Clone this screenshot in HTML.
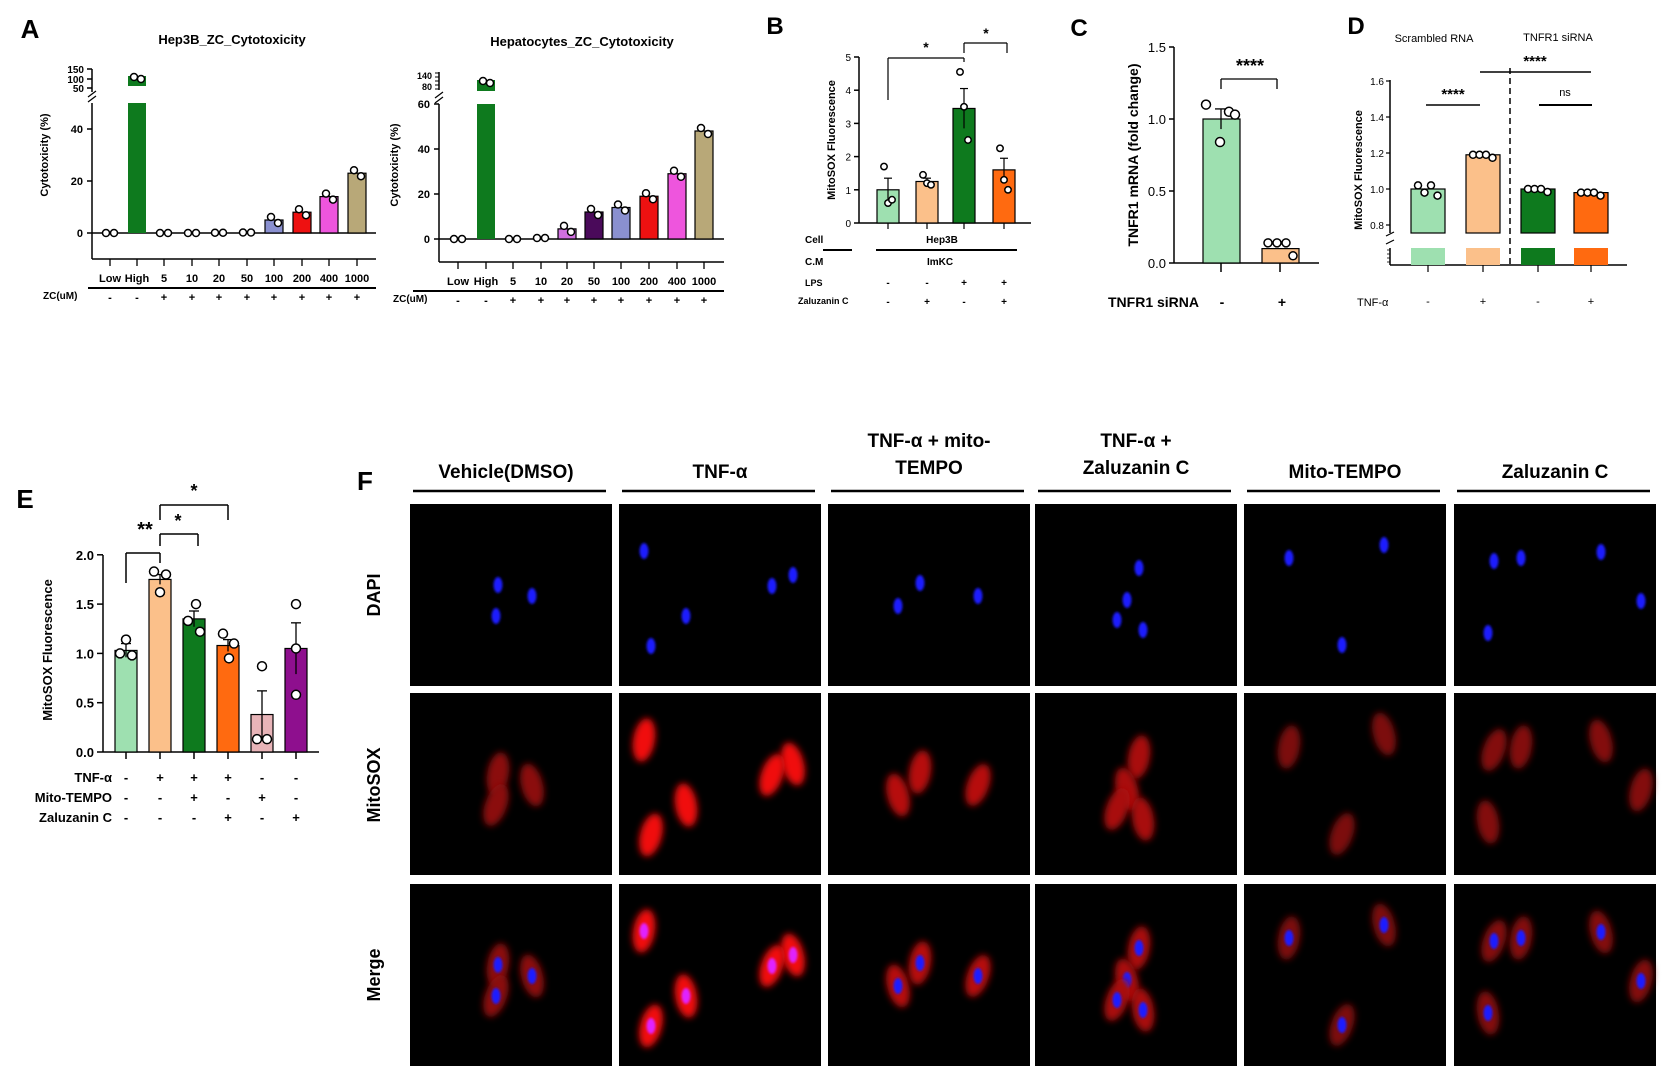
<!DOCTYPE html>
<html><head><meta charset="utf-8"><style>
html,body{margin:0;padding:0;background:#fff;}
svg{display:block;font-family:"Liberation Sans",sans-serif;}
</style></head><body>
<svg id="s" width="1663" height="1080" viewBox="0 0 1663 1080" xmlns="http://www.w3.org/2000/svg">
<defs>
<filter id="b3" x="-50%" y="-50%" width="200%" height="200%"><feGaussianBlur stdDeviation="3.5"/></filter>
<filter id="b1" x="-50%" y="-50%" width="200%" height="200%"><feGaussianBlur stdDeviation="1.2"/></filter>
</defs>
<g id="g"></g>
</svg>
<script>
var out=[];
function L(x1,y1,x2,y2,w,extra){out.push('<line x1="'+x1+'" y1="'+y1+'" x2="'+x2+'" y2="'+y2+'" stroke="#000" stroke-width="'+(w||1.5)+'" '+(extra||'')+'/>');}
function T(x,y,s,sz,anc,wt,extra){out.push('<text x="'+x+'" y="'+y+'" font-size="'+(sz||11)+'" text-anchor="'+(anc||'middle')+'" font-weight="'+(wt||'bold')+'" '+(extra||'')+'>'+s+'</text>');}
function R(x,y,w,h,f){out.push('<rect x="'+x+'" y="'+y+'" width="'+w+'" height="'+h+'" fill="'+f+'" stroke="#000" stroke-width="1.2"/>');}
function C(x,y,r){out.push('<circle cx="'+x+'" cy="'+y+'" r="'+(r||3.5)+'" fill="#fff" stroke="#000" stroke-width="1.5"/>');}
function YL(x,y,s,sz){out.push('<text x="'+x+'" y="'+y+'" font-size="'+sz+'" text-anchor="middle" font-weight="bold" transform="rotate(-90 '+x+' '+y+')">'+s+'</text>');}
T(30,38,'A',26,'middle','bold');T(775,34,'B',24);T(1079,36,'C',24);T(1356,34,'D',24);T(25,508,'E',26);T(365,490,'F',26);

// ---- A left
T(232,44,'Hep3B_ZC_Cytotoxicity',13);
(function(){
 var ax=92,z=233,s=2.6;
 L(ax,103,ax,259);L(ax,259,376,259);
 L(ax,69,ax,92);
 [[0,z],[20,z-52],[40,z-104]].forEach(function(t){L(ax-5,t[1],ax,t[1]);T(ax-9,t[1]+4,t[0],11,'end');});
 [[150,69],[100,79],[50,88]].forEach(function(t){L(ax-5,t[1],ax,t[1]);T(ax-8,t[1]+4,t[0],10,'end');});
 L(ax-4,97,ax+4,91,1.2);L(ax-4,102,ax+4,96,1.2);
 L(ax,z,376,z,1.5);
 var xs=[110,137,164,192,219,247,274,302,329,357];
 var v=[0,0,0,0,0.3,0.5,5,8,14,23];
 var col=['#fff','#0e7a1e','#fff','#fff','#fff','#fff','#8a90d0','#ee1111','#ee55dd','#b8a878'];
 var lab=['Low','High','5','10','20','50','100','200','400','1000'];
 xs.forEach(function(x,i){
  if(i==1){out.push('<rect x="'+(x-9)+'" y="103" width="18" height="'+(z-103)+'" fill="#0e7a1e"/>');out.push('<rect x="'+(x-9)+'" y="76" width="18" height="10" fill="#0e7a1e"/>');C(x-3,77);C(x+4,79);}
  else if(v[i]>1){R(x-9,z-v[i]*s,18,v[i]*s,col[i]);C(x-3,z-v[i]*s-3);C(x+4,z-v[i]*s+3);}
  else {C(x-4,z-v[i]);C(x+4,z-v[i]);}
  L(x,259,x,266,1.3);T(x,282,lab[i],11,'middle','bold');
  T(x,301,i<2?'-':'+',11,'middle','bold');
 });
 L(88,288,376,288,2);T(43,299,'ZC(uM)',10,'start');
 YL(48,155,'Cytotoxicity (%)',11);
})();
// ---- A right
T(582,46,'Hepatocytes_ZC_Cytotoxicity',13);
(function(){
 var ax=439,z=239,s=2.25;
 L(ax,104,ax,262);L(ax,262,724,262);L(ax,72,ax,90);
 [[0,z],[20,z-45],[40,z-90],[60,z-135]].forEach(function(t){L(ax-5,t[1],ax,t[1]);T(ax-9,t[1]+4,t[0],11,'end');});
 [[140,73],[120,77],[100,81],[80,85],[60,89]].forEach(function(t){L(ax-4,t[1],ax,t[1],1);});
 T(ax-7,79,'140',9,'end');T(ax-7,90,'80',9,'end');
 L(ax-4,98,ax+4,92,1.2);L(ax-4,103,ax+4,97,1.2);
 L(ax,z,724,z,1.5);
 var xs=[458,486,513,541,567,594,621,649,677,704];
 var v=[0,0,0,1,4.5,12,14,19,29,48];
 var col=['#fff','#0e7a1e','#fff','#fff','#d070e0','#4a0a5a','#8a90d0','#ee1111','#ee55dd','#b8a878'];
 var lab=['Low','High','5','10','20','50','100','200','400','1000'];
 xs.forEach(function(x,i){
  if(i==1){out.push('<rect x="'+(x-9)+'" y="104" width="18" height="'+(z-104)+'" fill="#0e7a1e"/>');out.push('<rect x="'+(x-9)+'" y="80" width="18" height="11" fill="#0e7a1e"/>');C(x-3,81);C(x+4,83);}
  else if(v[i]>2){R(x-9,z-v[i]*s,18,v[i]*s,col[i]);C(x-3,z-v[i]*s-3);C(x+4,z-v[i]*s+3);}
  else {C(x-4,z-v[i]);C(x+4,z-v[i]);}
  L(x,262,x,269,1.3);T(x,285,lab[i],11,'middle','bold');
  T(x,304,i<2?'-':'+',11,'middle','bold');
 });
 L(413,291,724,291,2);T(393,302,'ZC(uM)',10,'start');
 YL(398,165,'Cytotoxicity (%)',11);
})();
// ---- B
(function(){
 var ax=859,z=223,s=33.2;
 L(ax,57,ax,z);L(ax,z,1031,z);
 for(var i=0;i<=5;i++){L(ax-5,z-i*s,ax,z-i*s);T(ax-8,z-i*s+4,i,10,'end','normal');}
 var xs=[888,927,964,1004],v=[1,1.25,3.45,1.6],col=['#9ee0b0','#fbc08a','#0e7a1e','#ff6a10'],e=[0.35,0.1,0.6,0.35];
 var pts=[[1.7,0.6,0.7],[1.45,1.2,1.15],[4.55,3.5,2.5],[2.25,1.3,1.0]];
 xs.forEach(function(x,i){R(x-11,z-v[i]*s,22,v[i]*s,col[i]);L(x,z-(v[i]+e[i])*s,x,z-(v[i]-e[i])*s,1.2);L(x-4,z-(v[i]+e[i])*s,x+4,z-(v[i]+e[i])*s,1.2);
  pts[i].forEach(function(p,k){C(x+(k-1)*4,z-p*s,3.2);});L(x,z,x,z+6,1.2);});
 L(888,100,888,58,1.2);L(888,58,964,58,1.2);L(964,58,964,62,1.2);T(926,52,'*',14);
 L(964,53,964,43,1.2);L(964,43,1007,43,1.2);L(1007,43,1007,53,1.2);T(986,38,'*',14);
 YL(835,140,'MitoSOX Fluorescence',11);
 T(805,243,'Cell',10,'start');T(942,243,'Hep3B',10);L(823,250,852,250,2);L(876,250,1017,250,2);
 T(805,265,'C.M',10,'start');T(940,265,'ImKC',10);
 T(805,286,'LPS',9,'start');T(798,304,'Zaluzanin C',9,'start');
 ['-','-','+','+'].forEach(function(c,i){T(xs[i],286,c,10);});
 ['-','+','-','+'].forEach(function(c,i){T(xs[i],305,c,10);});
})();
// ---- C
(function(){
 var ax=1174,z=263,s=144;
 L(ax,47,ax,z);L(ax,z,1319,z);
 [0,0.5,1.0,1.5].forEach(function(t){L(ax-5,z-t*s,ax,z-t*s);T(ax-8,z-t*s+5,t.toFixed(1),13,'end','normal');});
 R(1203,z-s,37,s,'#9ee0b0');R(1262,z-0.1*s,37,0.1*s,'#fbc08a');
 L(1221,z-1.07*s,1221,z-0.93*s,1.3);L(1215,z-1.07*s,1227,z-1.07*s,1.3);
 [[1207,1.1],[1221,0.84],[1230,1.05],[1236,1.03]].forEach(function(p){C(p[0]-1,z-p[1]*s,4.5);});
 [[1268,0.14],[1277,0.14],[1286,0.14],[1293,0.05]].forEach(function(p){C(p[0],z-p[1]*s,4);});
 L(1221,z,1221,z+9);L(1280,z,1280,z+9);
 L(1221,89,1221,79,1.3);L(1221,79,1277,79,1.3);L(1277,79,1277,89,1.3);T(1250,72,'****',18);
 T(1108,307,'TNFR1 siRNA',14,'start');T(1222,307,'-',14);T(1282,307,'+',14);
 YL(1138,155,'TNFR1 mRNA (fold change)',14);
})();
// ---- D
(function(){
 var ax=1390,s=180;function Y(v){return 225-(v-0.8)*s;}
 T(1434,42,'Scrambled RNA',11,'middle','normal');T(1558,41,'TNFR1 siRNA',11,'middle','normal');
 L(ax,80,ax,233);L(ax,248,ax,265);L(ax,265,1627,265);
 [1.6,1.4,1.2,1.0,0.8].forEach(function(t){L(ax-4,Y(t),ax,Y(t),1.2);T(ax-6,Y(t)+4,t.toFixed(1),10,'end','normal');});
 L(ax-4,236,ax+4,232,1.2);L(ax-4,244,ax+4,240,1.2);
 for(var k=0;k<4;k++){L(ax-3,250+k*4,ax,250+k*4,0.8);}
 var xs=[1428,1483,1538,1591],v=[1.0,1.19,1.0,0.98],col=['#9ee0b0','#fbc08a','#0e7a1e','#ff6a10'];
 xs.forEach(function(x,i){out.push('<rect x="'+(x-17)+'" y="'+Y(v[i])+'" width="34" height="'+(233-Y(v[i]))+'" fill="'+col[i]+'" stroke="#000" stroke-width="1.2"/>');
  out.push('<rect x="'+(x-17)+'" y="248" width="34" height="17" fill="'+col[i]+'"/>');
  for(var k=0;k<4;k++){C(x-10+k*6.5,Y(v[i]+(i==0?(k%2?-0.02:0.02):0))+(k==3?3:0),3.5);}
  L(x,265,x,272,1.2);T(x,305,['-','+','-','+'][i],11,'middle','normal');});
 L(1510,68,1510,265,1.5,'stroke-dasharray="6,4"');
 L(1480,72,1591,72,1.5);T(1535,66,'****',15);
 L(1426,105,1480,105,1.5);T(1453,99,'****',15);
 L(1539,105,1592,105,2);T(1565,96,'ns',11,'middle','normal');
 T(1357,306,'TNF-α',11,'start','normal');
 YL(1362,170,'MitoSOX Fluorescence',11);
})();
// ---- E
(function(){
 var ax=103,z=752,s=98.6;
 L(ax,555,ax,z);L(ax,z,319,z);
 [0,0.5,1,1.5,2].forEach(function(t){L(ax-6,z-t*s,ax,z-t*s);T(ax-9,z-t*s+5,t.toFixed(1),13,'end');});
 var xs=[126,160,194,228,262,296],v=[1.03,1.75,1.35,1.08,0.38,1.05],e=[0.07,0.05,0.08,0.06,0.24,0.26];
 var col=['#9ee0b0','#fbc08a','#0e7a1e','#ff6a10','#e8b4b8','#8e0f8e'];
 var pts=[[1.0,1.14,0.98],[1.83,1.62,1.8],[1.33,1.5,1.22],[1.2,0.95,1.1],[0.13,0.87,0.13],[0.58,1.5,1.05]];
 var dx=[[-6,0,6],[-6,0,6],[-6,2,6],[-5,1,6],[-5,0,5],[0,0,0]];
 xs.forEach(function(x,i){R(x-11,z-v[i]*s,22,v[i]*s,col[i]);
  L(x,z-(v[i]+e[i])*s,x,z-(v[i]-e[i])*s,1.3);L(x-5,z-(v[i]+e[i])*s,x+5,z-(v[i]+e[i])*s,1.3);
  pts[i].forEach(function(p,k){C(x+dx[i][k],z-p*s,4.5);});L(x,z,x,z+7);});
 L(126,583,126,553,1.5);L(126,553,160,553,1.5);L(160,553,160,563,1.5);T(145,536,'**',20);
 L(160,546,160,534,1.5);L(160,534,198,534,1.5);L(198,534,198,546,1.5);T(178,527,'*',18);
 L(160,520,160,505,1.5);L(160,505,228,505,1.5);L(228,505,228,520,1.5);T(194,497,'*',18);
 YL(52,650,'MitoSOX Fluorescence',13);
 T(112,782,'TNF-α',13,'end');T(112,802,'Mito-TEMPO',13,'end');T(112,822,'Zaluzanin C',13,'end');
 var r=[['-','+','+','+','-','-'],['-','-','+','-','+','-'],['-','-','-','+','-','+']];
 r.forEach(function(row,j){row.forEach(function(c,i){T(xs[i],782+j*20,c,13);});});
})();
// ---- F
(function(){
 var cx=[410,619,828,1035,1244,1454],ry=[504,693,884],w=202,h=182;
 var heads=[['Vehicle(DMSO)'],['TNF-α'],['TNF-α + mito-','TEMPO'],['TNF-α +','Zaluzanin C'],['Mito-TEMPO'],['Zaluzanin C']];
 heads.forEach(function(hd,i){var c=cx[i]+w/2-(i==0?5:0);
  if(hd.length==1)T(c,478,hd[0],19);else{T(c,447,hd[0],19);T(c,474,hd[1],19);}
  L(cx[i]+3,491,cx[i]+w-6,491,2.5);});
 YL(380,595,'DAPI',18);YL(380,785,'MitoSOX',18);YL(380,975,'Merge',18);
 var nuc=[[[88,81],[122,92],[86,112]],[[25,47],[174,71],[153,82],[67,112],[32,142]],[[92,79],[70,102],[150,92]],[[104,64],[92,96],[82,116],[108,126]],[[45,54],[140,41],[98,141]],[[67,54],[147,48],[40,57],[34,129],[187,97]]];
 var red=[0.3,1,0.6,0.5,0.2,0.25];
 var rot=[10,-15,20,-10,15,-20,5];
 for(var i=0;i<6;i++)for(var j=0;j<3;j++){
  var x0=cx[i],y0=ry[j];out.push('<rect x="'+x0+'" y="'+y0+'" width="'+w+'" height="'+h+'" fill="#000"/>');
  nuc[i].forEach(function(n,k){var x=x0+n[0],y=y0+n[1];
   if(j>0)out.push('<ellipse cx="'+x+'" cy="'+y+'" rx="11" ry="22" transform="rotate('+rot[k]+' '+x+' '+y+')" fill="rgb('+Math.round(95+145*red[i])+',8,8)" filter="url(#b3)"/>');
   if(j!=1)out.push('<ellipse cx="'+x+'" cy="'+y+'" rx="4.5" ry="8" fill="'+(j==2&&red[i]>0.9?'#e020ff':'#1a1aff')+'" filter="url(#b1)"/>');
  });
 }
})();
document.getElementById('g').innerHTML=out.join('');
</script>
</body></html>
